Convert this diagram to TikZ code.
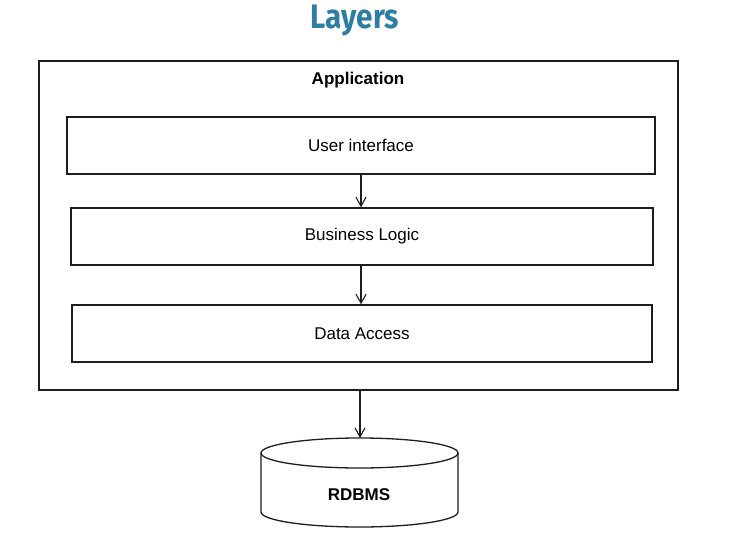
\documentclass[tikz,border=0pt]{standalone}
\usepackage{fontspec}
\setmainfont{Liberation Sans}
\newfontfamily\titlefont{Fira Sans}
\usetikzlibrary{arrows.meta}
\definecolor{titleblue}{RGB}{46,125,163}
\definecolor{ink}{RGB}{30,30,30}
\begin{document}
\begin{tikzpicture}[x=1pt,y=-1pt,
  layerbox/.style={draw=ink,line width=1.3pt,rectangle,inner sep=0pt,
    minimum height=57pt,font=\fontsize{17}{20}\selectfont},
  outerbox/.style={draw=ink,line width=1.4pt,rectangle,inner sep=0pt},
  flow/.style={draw=ink,line width=1.1pt,-{Straight Barb[length=9pt,width=10pt,line width=1.1pt]}},
  lbl/.style={inner sep=0pt}]
\useasboundingbox (0,0) rectangle (753,536);
% title
\node[lbl,anchor=base,text=titleblue] (title) at (355,28)
  {\scalebox{0.9}[1.03]{\titlefont\bfseries\fontsize{33}{36}\selectfont Layers}};
% application container
\node[outerbox,minimum width=639pt,minimum height=329pt] (app) at (358.5,225.5) {};
\node[lbl,font=\bfseries\fontsize{17}{20}\selectfont] (applbl) at (358,80) {Application};
% layers
\node[layerbox,minimum width=588pt] (ui) at (361,145.5) {User interface};
\node[layerbox,minimum width=582pt] (bl) at (362,236.5) {Business Logic};
\node[layerbox,minimum width=580pt] (da) at (362,333.5) {Data Access};
% database cylinder
\coordinate (dbtop) at (360,438);
\draw[ink,line width=1.3pt,fill=white]
  (261,453) -- (261,512) arc[start angle=180,end angle=360,x radius=98.5,y radius=-15]
  -- (458,453);
\draw[ink,line width=1.3pt] (359.5,453) ellipse[x radius=98.5,y radius=15];
\node[lbl,font=\bfseries\fontsize{17}{20}\selectfont] (db) at (359,495) {RDBMS};
% connectors
\draw[flow] (ui.south -| 361,0) -- (bl.north -| 361,0);
\draw[flow] (bl.south -| 361,0) -- (da.north -| 361,0);
\draw[flow] (app.south -| 360,0) -- (dbtop);
\end{tikzpicture}
\end{document}
